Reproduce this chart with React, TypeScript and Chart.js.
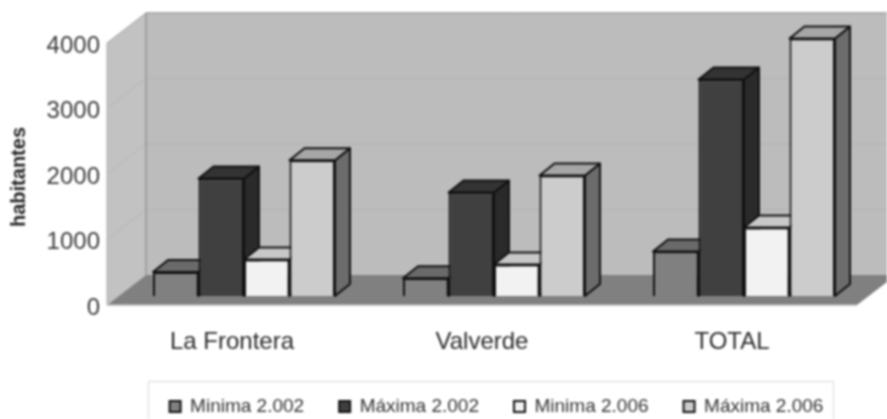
import React, { useEffect, useRef } from "react";
import { Chart, registerables } from "chart.js";

Chart.register(...registerables);

const categories = ["La Frontera", "Valverde", "TOTAL"];
const seriesNames = ["Minima 2.002", "Máxima 2.002", "Minima 2.006", "Máxima 2.006"];
const minima2002 = [365, 270, 680];
const maxima2002 = [1795, 1580, 3305];
const minima2006 = [557, 480, 1045];
const maxima2006 = [2073, 1840, 3930];
const frontColors = ["#808080", "#404040", "#f2f2f2", "#cccccc"];
const topColors = ["#6a6a6a", "#333333", "#c8c8c8", "#a6a6a6"];
const sideColors = ["#5c5c5c", "#2a2a2a", "#b0b0b0", "#6c6c6c"];

const FONT = '"Liberation Sans", Arial, sans-serif';
const LINE = "#111111";
// The depth of the room and of the bars, in pixels
const ROOM_DX = 39;
const ROOM_DY = 30;
const BAR_DX = 12;
const BAR_DY = 12;
const FACE_DX = 15;
const FACE_DY = 12;
const AXIS_SHIFT = 3;
const LEGEND_PAD = 35;

function poly(ctx: CanvasRenderingContext2D, pts: number[][], fill: string, stroke?: string, lw = 1) {
  ctx.beginPath();
  pts.forEach((p, i) => (i ? ctx.lineTo(p[0], p[1]) : ctx.moveTo(p[0], p[1])));
  ctx.closePath();
  ctx.fillStyle = fill;
  ctx.fill();
  if (stroke) {
    ctx.strokeStyle = stroke;
    ctx.lineWidth = lw;
    ctx.lineJoin = "round";
    ctx.stroke();
  }
}

function seg(ctx: CanvasRenderingContext2D, x1: number, y1: number, x2: number, y2: number, c: string, lw = 1) {
  ctx.beginPath();
  ctx.moveTo(x1, y1);
  ctx.lineTo(x2, y2);
  ctx.strokeStyle = c;
  ctx.lineWidth = lw;
  ctx.stroke();
}

const room3d = {
  id: "room3d",
  afterLayout(chart: any) {
    const lg = chart.legend;
    lg.left += 68;
    lg.right += 68;
    lg.top = 405 - LEGEND_PAD - 11 + 3;
    chart.scales.x.bottom = 375;
  },
  beforeDatasetsDraw(chart: any) {
    const { ctx, chartArea, scales } = chart;
    const l = chartArea.left;
    const r = chartArea.right;
    const y0 = scales.y.getPixelForValue(0) - AXIS_SHIFT;
    const yT = scales.y.getPixelForValue(4000) - AXIS_SHIFT;
    const W = chart.width;
    // back and left walls
    poly(ctx, [[l + ROOM_DX, yT - ROOM_DY], [W, yT - ROOM_DY], [W, y0 - ROOM_DY], [l + ROOM_DX, y0 - ROOM_DY]], "#bcbcbc");
    poly(ctx, [[l, yT], [l + ROOM_DX, yT - ROOM_DY], [l + ROOM_DX, y0 - ROOM_DY], [l, y0]], "#c2c2c2");
    // grid
    scales.y.ticks.forEach((t: any) => {
      if (t.value === 0) return;
      const y = scales.y.getPixelForValue(t.value) - AXIS_SHIFT;
      seg(ctx, l, y, l + ROOM_DX, y - ROOM_DY, "#b6b6b6");
      seg(ctx, l + ROOM_DX, y - ROOM_DY, W, y - ROOM_DY, "#b2b2b2");
    });
    seg(ctx, l + ROOM_DX, yT - ROOM_DY, W, yT - ROOM_DY, "#a4a4a4", 1.5);
    seg(ctx, l, yT, l + ROOM_DX, yT - ROOM_DY, "#adadad");
    seg(ctx, l, yT, l, y0, "#adadad");
    seg(ctx, l + ROOM_DX, yT - ROOM_DY, l + ROOM_DX, y0 - ROOM_DY, "#808080");
    // floor
    poly(ctx, [[l, y0], [r, y0], [r + ROOM_DX, y0 - ROOM_DY], [l + ROOM_DX, y0 - ROOM_DY]], "#808080");
    seg(ctx, l, y0, r, y0, "#b8b8b8", 1.5);
    // depth faces, left to right
    categories.forEach((_, c) => {
      seriesNames.forEach((__, s) => {
        const el = chart.getDatasetMeta(s).data[c];
        const x1 = el.x - el.width / 2 + BAR_DX;
        const x2 = el.x + el.width / 2 + BAR_DX;
        const top = el.y - BAR_DY;
        const base = el.base - BAR_DY;
        poly(ctx, [[x2, top], [x2 + FACE_DX, top - FACE_DY], [x2 + FACE_DX, base - FACE_DY], [x2, base]], sideColors[s], LINE, 2);
        poly(ctx, [[x1, top], [x1 + FACE_DX, top - FACE_DY], [x2 + FACE_DX, top - FACE_DY], [x2, top]], topColors[s], LINE, 2);
      });
    });
    ctx.save();
    ctx.translate(BAR_DX, -BAR_DY);
  },
  afterDatasetsDraw(chart: any) {
    chart.ctx.restore();
  },
  afterDraw(chart: any) {
    const { ctx } = chart;
    ctx.save();
    ctx.strokeStyle = "#e4e4e4";
    ctx.lineWidth = 1.5;
    ctx.strokeRect(148.5, 381.5, 685, 60);
    ctx.restore();
  },
};

export default function App() {
  const ref = useRef<HTMLCanvasElement>(null);
  useEffect(() => {
    document.body.style.margin = "0";
    const values = [minima2002, maxima2002, minima2006, maxima2006];
    const chart = new Chart(ref.current as HTMLCanvasElement, {
      type: "bar",
      data: {
        labels: categories,
        datasets: seriesNames.map((name, i) => ({
          label: name,
          data: values[i],
          backgroundColor: frontColors[i],
          borderColor: LINE,
          borderWidth: 2,
          categoryPercentage: 0.728,
          barPercentage: 1,
          clip: false as any,
        })),
      },
      plugins: [room3d],
      options: {
        animation: false,
        responsive: false,
        layout: { padding: { top: 46, left: 0, right: 30, bottom: 0 } },
        plugins: {
          tooltip: { enabled: false },
          legend: {
            position: "bottom",
            labels: {
              boxWidth: 11,
              boxHeight: 11,
              padding: LEGEND_PAD,
              color: "#333333",
              font: { family: FONT, size: 19 },
            },
          },
        },
        scales: {
          x: {
            grid: { display: false },
            border: { display: false },
            ticks: { padding: 12, color: "#2a2a2a", font: { family: FONT, size: 24 }, maxRotation: 0 },
            afterFit(scale: any) {
              scale.height = 111 - scale.chart.legend.height;
            },
          },
          y: {
            min: 0,
            max: 4000,
            grid: { display: false, drawTicks: false },
            border: { display: false },
            ticks: {
              stepSize: 1000,
              padding: 7,
              color: "#3a3a3a",
              font: { family: FONT, size: 24 },
              callback: (v: any) => String(v),
            },
            title: {
              display: true,
              text: "habitantes",
              color: "#222222",
              padding: 7,
              font: { family: FONT, size: 20, weight: "bold" },
            },
            afterFit(scale: any) {
              scale.width = 107;
            },
          },
        },
      },
    });
    return () => chart.destroy();
  }, []);
  return (
    <canvas
      ref={ref}
      width={887}
      height={419}
      style={{ display: "block", width: 887, height: 419, filter: "blur(0.8px)" }}
    />
  );
}
